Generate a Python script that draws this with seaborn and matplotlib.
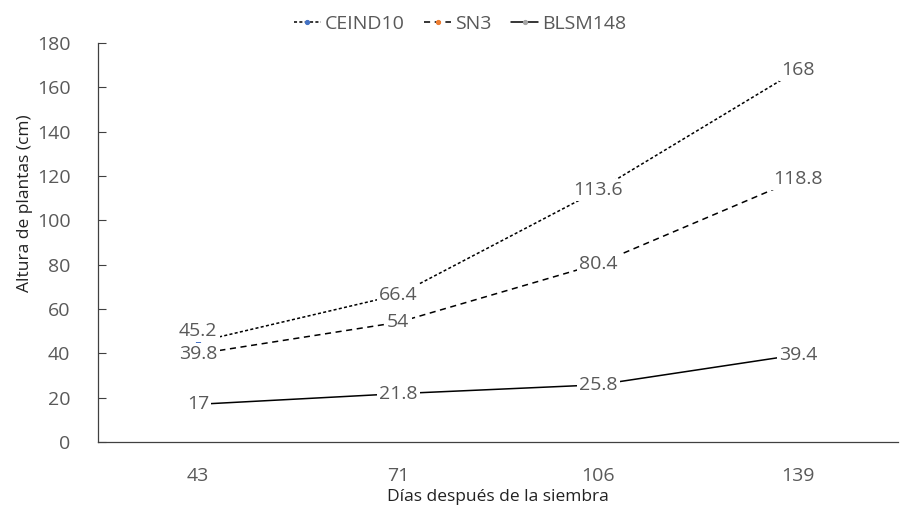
import numpy as np
import pandas as pd
import matplotlib
matplotlib.use("Agg")
import matplotlib.pyplot as plt
import seaborn as sns

# data
dias = ["43", "71", "106", "139"]
ceind10 = [45.2, 66.4, 113.6, 168]
sn3 = [39.8, 54, 80.4, 118.8]
blsm148 = [17, 21.8, 25.8, 39.4]

series = {"CEIND10": ceind10, "SN3": sn3, "BLSM148": blsm148}
rows = []
for name, vals in series.items():
    for i, v in enumerate(vals):
        rows.append({"pos": i, "dia": dias[i], "altura": v, "serie": name})
df = pd.DataFrame(rows)

sns.set_style("white")
plt.rcParams["font.family"] = ["Open Sans", "DejaVu Sans"]
grey = "#595959"
fs = 14

fig = plt.figure(figsize=(9.01, 5.08), dpi=100)
ax = fig.add_axes([0.109, 0.130, 0.888, 0.785])

styles = {"CEIND10": (0, (2, 1.5)), "SN3": (0, (4, 3)), "BLSM148": "-"}
marker_colors = {"CEIND10": "#4472C4", "SN3": "#ED7D31", "BLSM148": "#A5A5A5"}
# the first CEIND10 label sits a bit above its point in the original
nudge = {("CEIND10", 0): 5.0}

for name in series:
    sub = df[df["serie"] == name]
    sns.lineplot(data=sub, x="pos", y="altura", ax=ax, color="black", lw=1.1,
                 linestyle=styles[name], marker="o", markersize=3,
                 markerfacecolor=marker_colors[name], markeredgecolor=marker_colors[name],
                 label=name)
    for _, r in sub.iterrows():
        lbl = f"{r['altura']:g}"
        dy = nudge.get((name, r["pos"]), 0.0)
        ax.text(r["pos"], r["altura"] + dy, lbl, ha="center", va="center", fontsize=fs,
                color=grey, bbox=dict(facecolor="white", edgecolor="none", pad=1.5))

ax.set_xlim(-0.5, 3.5)
ax.set_ylim(0, 180)
ax.set_yticks(np.arange(0, 181, 20))
ax.set_xticks(range(len(dias)))
ax.set_xticklabels(dias)
ax.set_xticks([0.5, 1.5, 2.5], minor=True)
ax.tick_params(axis="x", which="major", length=0, pad=18, labelsize=fs, labelcolor=grey)
ax.tick_params(axis="x", which="minor", direction="in", length=6, width=0.8, color="#404040")
ax.tick_params(axis="y", which="major", direction="in", length=6, width=0.8,
               color="#404040", labelsize=fs, labelcolor=grey, left=True, pad=20)

for s in ["top", "right"]:
    ax.spines[s].set_visible(False)
for s in ["left", "bottom"]:
    ax.spines[s].set_color("#404040")
    ax.spines[s].set_linewidth(0.9)

ax.set_xlabel("Días después de la siembra", fontsize=12.5, color="#222222", labelpad=3)
ax.set_ylabel("Altura de plantas (cm)", fontsize=12.5, color="#222222")
ax.yaxis.set_label_coords(-0.082, 0.6)

leg = ax.legend(loc="upper center", bbox_to_anchor=(0.452, 1.115), ncol=3, frameon=False,
                fontsize=fs, labelcolor=grey, handlelength=1.4, handletextpad=0.2,
                columnspacing=1.0)

fig.savefig("out.png", dpi=100)
